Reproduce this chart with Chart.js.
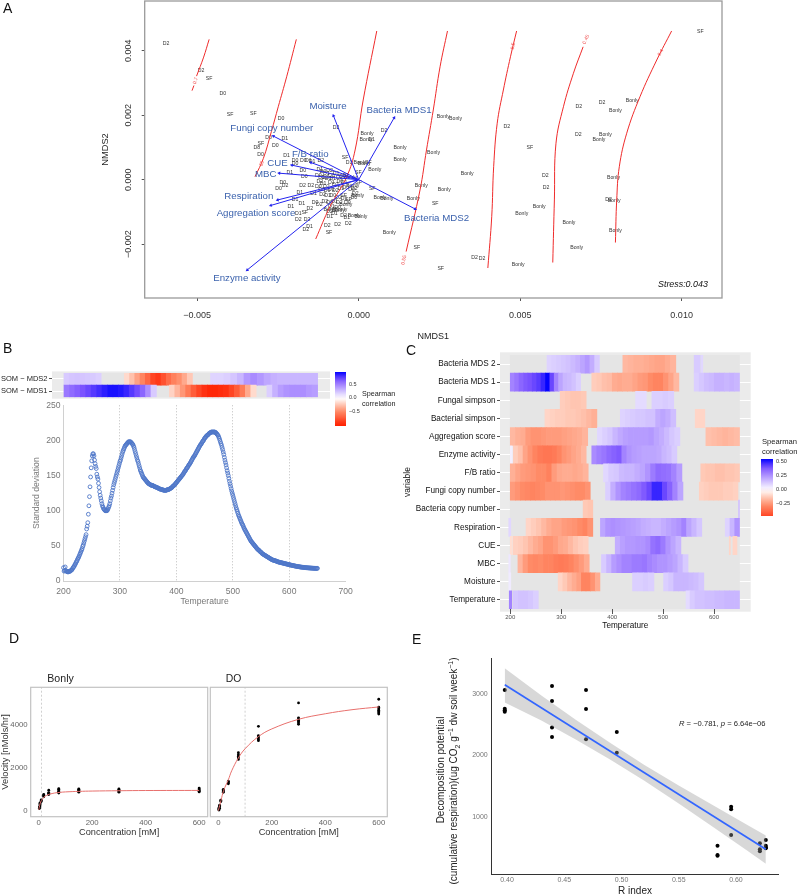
<!DOCTYPE html>
<html>
<head>
<meta charset="utf-8">
<title>Soil figure</title>
<script src="https://cdn.jsdelivr.net/npm/chart.js@4/dist/chart.umd.min.js"></script>
<style>
html, body { margin: 0; padding: 0; background: #fff; }
#page { position: relative; width: 799px; height: 895px; overflow: hidden; font-family: "Liberation Sans", sans-serif; }
#page canvas { position: absolute; }
.note { position: absolute; white-space: nowrap; transform: translateY(-50%); line-height: 1; }
.note sub, .note sup { font-size: 70%; line-height: 0; }
</style>
</head>
<body>
<div id="page"></div>
<script>
// Panel A - NMDS values are in units of 1e-3
const nmdsXTicks = [-5, 0, 5, 10];
const nmdsXLabels = ['\u22120.005', '0.000', '0.005', '0.010'];
const nmdsYTicks = [-2, 0, 2, 4];
const nmdsYLabels = ['\u22120.002', '0.000', '0.002', '0.004'];

const siteNames = ['D2','D2','SF','D0','SF','SF','D0','D1','D0','D0','SF','D8','D0','D1','D0','D0','D1','D0','D1','D2','D1','D0','D0','D0','D2','D0','D2','D2','D1','D1','D1','D1','D2','D1','D2','D2','D1','D2','SF','D2','D2','D2','SF','Bonly','D1','D2','Bonly','Bonly','D1','Bonly','Bonly','Bonly','SF','D2','Bonly','SF','Bonly','Bonly','D2','Bonly','Bonly','D1','D2','Bonly','Bonly','SF','D1','Bonly','Bonly','SF','Bonly','SF',
  'Bonly','Bonly','D2','Bonly','SF','D2','D2','Bonly','Bonly','D2','Bonly','Bonly','Bonly','Bonly','Bonly','D2','D2','Bonly','D2','Bonly','Bonly','SF','Bonly','Bonly','Bonly','Bonly','Bonly','SF','SF','D2','D2','Bonly','SF',
  'D1','D0','D1','D2','D0','D1','D0','D1','D2','D0','D1','D2','D0','D1','Bonly','D2','D1','D0','D2','D1','D2','D0','D1','D0','D0','D1','D2','D1','D0','D1','D2','D1','D0','D2','D1','SF','D2','D0','D1','D2','D0','D2','D0','D1','D0','D2','D1','Bonly','D0','D2','D0','Bonly','SF'];
const siteX = [-5.96,-4.88,-4.63,-4.21,-3.98,-3.26,-2.40,-2.29,-2.79,-2.58,-3.03,-3.15,-3.04,-2.23,-1.97,-1.97,-1.56,-1.71,-1.44,-1.17,-2.13,-1.68,-1.73,-2.35,-2.28,-2.48,-1.74,-1.48,-1.82,-1.97,-2.10,-1.76,-1.51,-1.87,-1.87,-1.60,-1.52,-1.64,-1.67,-0.97,-0.65,-0.32,-0.92,0.95,-0.37,-0.47,-0.14,0.07,-0.89,-0.63,-0.89,-0.40,-0.47,-0.14,-0.03,0.42,0.66,0.87,-0.70,0.26,0.23,0.40,0.79,1.28,1.28,-0.42,-0.30,0.04,0.17,0.30,0.50,-0.01,
  2.62,3.00,4.59,2.32,5.30,6.82,7.54,8.47,7.95,6.80,7.64,7.44,3.36,1.94,2.65,5.78,5.80,7.89,7.74,7.91,1.69,2.37,5.59,5.05,6.51,7.95,6.75,1.80,2.54,3.59,3.82,4.94,10.58,
  -1.20,-1.10,-1.00,-0.90,-0.85,-0.70,-1.25,-1.15,-1.05,-0.95,-0.80,-0.60,-0.50,-0.40,-0.25,-1.20,-1.10,-1.25,-1.00,-0.85,-0.72,-0.58,-0.45,-1.15,-0.98,-0.85,-0.72,-0.55,-0.40,-1.40,-1.12,-0.96,-0.80,-0.62,-0.45,-0.32,-1.05,-0.90,-0.75,-0.60,-0.35,-1.22,-1.35,-0.85,-0.65,-0.90,-0.75,-0.55,-0.22,-0.10,-0.15,-0.18,0.00];
const siteY = [4.22,3.37,3.15,2.68,2.02,2.04,1.90,1.26,1.29,1.07,1.11,1.00,0.79,0.76,0.58,0.51,0.60,0.60,0.57,0.59,0.21,0.11,0.29,-0.09,-0.19,-0.29,-0.17,-0.17,-0.41,-0.63,-0.82,-0.75,-0.90,-1.04,-1.23,-1.25,-1.47,-1.56,-1.01,-1.43,-1.39,-1.36,-1.65,-1.63,-1.19,-1.11,-1.10,-1.14,-1.13,-0.96,-0.94,-0.78,-0.50,-0.27,-0.48,-0.27,-0.57,-0.59,1.63,1.44,1.25,1.25,1.51,1.00,0.61,0.68,0.53,0.52,0.51,0.53,0.30,0.23,
  1.97,1.88,1.66,0.85,1.01,2.27,2.39,2.45,2.13,1.41,1.39,1.25,0.18,-0.17,-0.30,0.14,-0.24,0.06,-0.63,-0.66,-0.60,-0.73,-0.84,-1.04,-1.32,-1.57,-2.11,-2.12,-2.75,-2.41,-2.46,-2.63,4.60,
  0.30,0.25,0.20,0.28,0.12,0.20,0.12,0.05,0.08,0.02,0.02,0.08,0.10,0.14,0.05,-0.05,-0.12,-0.22,-0.22,-0.10,-0.15,-0.05,-0.10,-0.32,-0.35,-0.30,-0.34,-0.28,-0.25,-0.42,-0.45,-0.50,-0.50,-0.55,-0.60,-0.62,-0.68,-0.70,-0.68,-0.72,-0.72,-0.78,-0.72,-0.85,-0.86,-1.00,-1.05,-0.93,-0.30,-0.42,-0.55,-0.18,-0.10];

const arrowNames = ['Moisture','Bacteria MDS1','Fungi copy number','F/B ratio','CUE','MBC','Respiration','Aggregation score','Enzyme activity','Bacteria MDS2'];
const arrowX = [-0.78,1.10,-2.64,-1.48,-2.07,-2.46,-2.51,-2.72,-3.45,1.75];
const arrowY = [1.98,1.92,1.35,0.53,0.45,0.20,-0.63,-0.80,-2.80,-0.91];
const arrowLabelX = [-0.95,1.25,-2.69,-1.50,-2.51,-2.88,-3.40,-3.18,-3.46,2.41];
const arrowLabelY = [2.26,2.16,1.58,0.80,0.52,0.18,-0.53,-1.04,-3.06,-1.20];

const contour70X = [-5.16,-5.10,null,-5.02,-4.80,-4.63];
const contour70Y = [2.76,2.92,null,3.21,3.80,4.35];
const contour65X = [-3.21,-2.95,-2.70,-2.49,-2.23,-1.93];
const contour65Y = [0.09,0.66,1.50,2.26,3.19,4.35];
const contour60X = [-1.33,-0.89,-0.37,-0.11,0.14,0.56];
const contour60Y = [-1.84,-0.84,0.09,0.92,2.47,4.61];
const contour55X = [1.47,1.90,2.10,2.31,2.52,2.75];
const contour55Y = [-2.23,-0.32,0.92,2.16,3.50,4.61];
const contour50X = [4.00,4.12,4.18,4.29,4.48,4.70,4.89];
const contour50Y = [-2.74,-1.15,0.40,1.75,2.78,3.81,4.61];
const contour45X = [6.01,6.06,6.11,6.34,6.65,6.95];
const contour45Y = [-2.57,-0.63,1.13,2.26,3.30,4.12];
const contour40X = [7.95,7.99,8.07,8.30,8.71,9.23,9.69];
const contour40Y = [-1.95,-0.63,0.40,1.44,2.57,3.71,4.61];
const contourLabels = ['0.7','65','0.55','0.5','0.45','0.4'];
const contourLabelX = [-5.05,-3.00,1.40,4.78,7.04,9.35];
const contourLabelY = [3.07,0.50,-2.49,4.14,4.35,3.94];
const contourLabelAngle = [-72,-72,-78,-78,-66,-62];

// Panel B
const stripRows = ['SOM \u2212 MDS2', 'SOM \u2212 MDS1'];
const somMds2Segments = [
  [200, 266, [0.22,0.24,0.25,0.24,0.23,0.22,0.20]],
  [307, 428, [-0.15,-0.25,-0.38,-0.50,-0.65,-0.80,-0.85,-0.75,-0.62,-0.52,-0.45,-0.35,-0.22]],
  [460, 650, [0.18,0.18,0.20,0.24,0.30,0.42,0.47,0.42,0.36,0.32,0.30,0.30,0.30,0.30,0.30,0.30]]
];
const somMds1Segments = [
  [200, 364, [0.55,0.60,0.65,0.70,0.74,0.78,0.82,0.86,0.90,0.90,0.88,0.84,0.78,0.72,0.62,0.45,0.22]],
  [387, 541, [-0.18,-0.30,-0.42,-0.55,-0.70,-0.80,-0.88,-0.92,-0.92,-0.90,-0.88,-0.80,-0.70,-0.55,-0.35,-0.15]],
  [560, 650, [0.20,0.32,0.40,0.44,0.46,0.46,0.46,0.42,0.40]]
];
const sdTickValues = [0, 50, 100, 150, 200, 250];
const tempTickValues = [200, 300, 400, 500, 600, 700];
const sdFirstTemp = 200;
// standard deviation read for every degree from 200 to 650
const sdValues = [19,14,15,20,15,14,13.5,13,13,13,
  13.5,14,14,15,15.5,16,17.5,19,20,21,
  23,24,26,27.5,29,31,32.5,34,36,38,
  40,42,44,46,49,51,54,57,60,63,
  66,74,78,83,95,107,120,134,148,161,
  171,178,181,181,178,172,167,163,160,152,
  148,145,139,133,127,122,118,114,110,107,
  105,103,102,101,100,100,100,100,101,103,
  105,107,110,114,118,121,125,129,133,137,
  140,143,146,149,152,155,158,161,164,167,
  170,172,175,178,181,184,186,188,190,192,
  193,194,195,196,197,198,198,198,198,198,
  197,196,195,194,192,190,187,184,181,178,
  175,172,170,167,164,161,158,156,154,152,
  150,148,147,146,145,144,143,142,141,140,
  139,138.5,138,137.5,137,136.5,136,136,136,135.5,
  135,134.5,134,134,133.5,133,133,132.5,132,131.5,
  131,131,130.5,130.5,130,130,129.5,129.5,129,129,
  129,129,129,129.5,130,130,130,130.5,131,131.5,
  132,132.5,133,134,135,135.5,136,137,138,139,
  140,141,142,143,144,145,146,147,148,149,
  150,151,152,153.5,155,156,157,158.5,160,161,
  162,163.5,165,166,167,168.5,170,171.5,173,174.5,
  176,177,178,179.5,181,182.5,184,185.5,187,188.5,
  190,191.5,193,194,195,196.5,198,199,200,201.5,
  203,204,205,206,207,207.5,208,209,210,210.5,
  211,211.5,212,212,212,212,212,212,212,211.5,
  211,210,209,208,207,205,203,200.5,198,195.5,
  193,190,187,183.5,180,176,172,168.5,165,161,
  157,153.5,150,146,142,138.5,135,131.5,128,125,
  122,119,116,113,110,107,104,101.5,99,96.5,
  94,92,90,88,86,84,82,80.5,79,77,
  75,73.5,72,70.5,69,67.5,66,64.5,63,61.5,
  60,58.5,57,56,55,54,53,52,51,50,
  49,48,47,46,45,44.5,44,43,42,41.5,
  41,40,39,38.5,38,37.5,37,36.5,36,35.5,
  35,34.5,34,33.5,33,32.5,32,31.5,31,30.5,
  30,29.8,29.6,29.4,29,28.8,28.6,28.2,28,27.6,
  27.2,27,26.8,26.6,26.4,26.2,26,25.8,25.6,25.4,
  25.2,25,24.8,24.6,24.4,24.2,24,23.8,23.6,23.4,
  23.2,23,22.8,22.6,22.4,22.2,22,21.9,21.7,21.5,
  21.4,21.2,21,20.9,20.7,20.6,20.4,20.3,20.2,20,
  19.9,19.8,19.7,19.6,19.5,19.4,19.3,19.2,19.1,19,
  18.9,18.8,18.8,18.7,18.6,18.6,18.5,18.5,18.4,18.4,
  18.3,18.3,18.2,18.2,18.1,18.1,18,18,18,18,18];

// Panel C - each row holds [from, to, values] runs over the temperature axis
const variableNames = ['Bacteria MDS 2','Bacteria MDS 1','Fungal simpson','Bacterial simpson','Aggregation score','Enzyme activity','F/B ratio','Fungi copy number','Bacteria copy number','Respiration','CUE','MBC','Moisture','Temperature'];
const bacteriaMds2Row = [[272,375,[0.11,0.12,0.13,0.14,0.15,0.17,0.19,0.22,0.25,0.20,0.13]],[421,525,[-0.17,-0.18,-0.19,-0.19,-0.20,-0.21,-0.22,-0.22,-0.20,-0.18]],[561,573,[0.13]],[575,578,[0.10]]];
const bacteriaMds1Row = [[200,338,[0.30,0.33,0.37,0.40,0.42,0.44,0.46,0.50,0.56,0.44,0.30,0.22,0.18,0.17,0.15,0.12]],[360,531,[-0.12,-0.13,-0.15,-0.16,-0.20,-0.21,-0.20,-0.20,-0.22,-0.24,-0.25,-0.28,-0.30,-0.30,-0.26,-0.22,-0.17]],[561,650,[0.12,0.14,0.16,0.17,0.19,0.19,0.18,0.19,0.18]]];
const fungalSimpsonRow = [[298,349,[-0.12,-0.13,-0.14,-0.14,-0.13]],[446,467,[0.09,0.09]],[478,521,[0.12,0.12,0.13,0.12]]];
const bacterialSimpsonRow = [[268,370,[-0.10,-0.11,-0.12,-0.12,-0.13,-0.13,-0.14,-0.15,-0.17,-0.19]],[416,525,[0.11,0.12,0.13,0.14,0.14,0.15,0.15,0.20,0.22,0.20,0.16]],[563,582,[-0.10,-0.10]]];
const aggregationRow = [[200,352,[-0.17,-0.19,-0.20,-0.24,-0.26,-0.26,-0.25,-0.24,-0.24,-0.24,-0.23,-0.22,-0.21,-0.20,-0.18]],[371,533,[0.10,0.12,0.14,0.18,0.21,0.23,0.24,0.24,0.24,0.24,0.25,0.22,0.20,0.17,0.14,0.12]],[584,650,[-0.15,-0.16,-0.17,-0.18,-0.17,-0.16]]];
const enzymeRow = [[200,204,[0.04]],[206,349,[-0.12,-0.15,-0.22,-0.26,-0.30,-0.33,-0.34,-0.34,-0.33,-0.30,-0.26,-0.24,-0.22,-0.20,-0.17]],[360,527,[0.28,0.31,0.33,0.36,0.38,0.40,0.30,0.26,0.24,0.23,0.22,0.22,0.22,0.21,0.18,0.16,0.13]]];
const fbRatioRow = [[200,353,[-0.19,-0.22,-0.24,-0.25,-0.26,-0.28,-0.28,-0.31,-0.24,-0.21,-0.20,-0.20,-0.21,-0.20,-0.18]],[383,537,[0.10,0.13,0.14,0.17,0.18,0.18,0.20,0.22,0.26,0.32,0.36,0.35,0.34,0.30,0.24]],[574,650,[-0.13,-0.14,-0.14,-0.15,-0.15,-0.14,-0.14,-0.13]]];
const fungiCopyRow = [[200,357,[-0.24,-0.26,-0.28,-0.29,-0.30,-0.29,-0.28,-0.26,-0.26,-0.26,-0.25,-0.26,-0.27,-0.28,-0.28,-0.26]],[387,539,[0.12,0.20,0.26,0.30,0.32,0.34,0.36,0.40,0.44,0.50,0.50,0.44,0.38,0.30,0.22]],[571,647,[-0.11,-0.12,-0.13,-0.13,-0.13,-0.12,-0.12,-0.11]]];
const bacteriaCopyRow = [[343,362,[-0.13,-0.14]],[648,650,[0.15]]];
const respirationRow = [[197,201,[0.10]],[231,362,[-0.10,-0.12,-0.14,-0.17,-0.20,-0.22,-0.22,-0.24,-0.25,-0.26,-0.28,-0.30,-0.26]],[377,576,[0.22,0.26,0.27,0.26,0.25,0.24,0.23,0.22,0.20,0.19,0.18,0.18,0.20,0.22,0.24,0.26,0.30,0.22,0.18,0.14]],[622,650,[0.11,0.18,0.26]]];
const cueRow = [[200,204,[-0.08]],[206,353,[-0.11,-0.12,-0.14,-0.17,-0.20,-0.22,-0.26,-0.26,-0.24,-0.21,-0.20,-0.17,-0.14,-0.12,-0.11]],[406,535,[0.20,0.23,0.25,0.25,0.26,0.26,0.28,0.34,0.36,0.32,0.26,0.22,0.18]],[630,632,[-0.10]],[637,645,[-0.10]]];
const mbcRow = [[197,200,[0.06]],[215,355,[-0.18,-0.24,-0.28,-0.29,-0.28,-0.30,-0.30,-0.32,-0.33,-0.32,-0.30,-0.27,-0.24,-0.20]],[379,549,[0.13,0.18,0.24,0.27,0.30,0.30,0.32,0.32,0.33,0.30,0.28,0.26,0.26,0.24,0.22,0.18,0.13]]];
const moistureRow = [[197,201,[0.05]],[294,376,[-0.10,-0.13,-0.17,-0.20,-0.23,-0.30,-0.30,-0.26,-0.20]],[440,482,[0.12,0.12,0.13,0.12]],[501,580,[0.12,0.14,0.18,0.18,0.18,0.17,0.16,0.14]]];
const temperatureRow = [[198,203,[0.30]],[206,255,[0.14,0.15,0.15,0.14,0.12]],[545,553,[0.09]],[553,650,[0.13,0.15,0.15,0.16,0.16,0.17,0.17,0.18,0.18,0.18]]];
const heatTickValues = [200, 300, 400, 500, 600];

// Panel D
const concTicks = [0, 200, 400, 600];
const velocityTicks = [0, 2000, 4000];
const bonlyConc = [2.3,2.3,2.3,4.7,4.7,4.7,4.7,9.4,9.4,9.4,18.75,18.75,18.75,18.75,37.5,37.5,37.5,37.5,37.5,75,75,75,75,75,75,150,150,150,150,150,150,300,300,300,300,300,300,600,600,600,600,600,600];
const bonlyVelocity = [100,130,170,220,280,320,360,430,480,510,650,690,720,760,760,790,820,850,960,830,870,900,940,1000,1030,870,900,930,960,1000,1020,870,900,930,960,990,1020,880,910,940,970,1020,1060];
const bonlyFitConc = [0,2,5,10,20,30,40,60,80,100,150,200,300,400,600];
const bonlyFitVelocity = [40,160,320,480,640,720,770,830,860,880,905,920,935,945,950];
const bonlyKm = 10;
const doConc = [2.3,2.3,2.3,2.3,4.7,4.7,4.7,9.4,9.4,9.4,18.75,18.75,18.75,18.75,37.5,37.5,37.5,37.5,75,75,75,75,75,150,150,150,150,150,150,300,300,300,300,300,300,300,600,600,600,600,600,600,600];
const doVelocity = [30,60,100,130,120,200,260,430,480,500,860,900,950,1000,1260,1300,1340,1380,2400,2480,2550,2620,2720,3280,3340,3400,3460,3520,3950,4050,4120,4180,4240,4300,4350,5050,4530,4590,4650,4710,4770,4850,5220];
const doFitConc = [0,10,20,37.5,50,75,100,150,200,300,400,500,600];
const doFitVelocity = [0,480,950,1450,1870,2470,2900,3470,3830,4280,4540,4730,4860];
const doKm = 100;

// Panel E
const rIndexTicks = [0.40, 0.45, 0.50, 0.55, 0.60];
const rIndexLabels = ['0.40', '0.45', '0.50', '0.55', '0.60'];
const decompTicks = [1000, 2000, 3000];
const rIndex = [0.398,0.398,0.398,0.398,0.4393,0.4393,0.4393,0.4393,0.469,0.469,0.469,0.4959,0.4959,0.5839,0.5839,0.5839,0.5958,0.5958,0.5958,0.6209,0.6209,0.6209,0.6261,0.6261,0.6261,0.6261];
const decomposition = [3065,2760,2735,2710,3130,2886,2453,2300,3065,2756,2263,2382,2046,533,382,370,1168,1125,707,572,474,441,626,533,506,490];
const fitRIndex = [0.398,0.6261];
const fitDecomp = [3150,474];
const ribbonRIndex = [0.398,0.43,0.46,0.49,0.52,0.55,0.58,0.61,0.6261];
const ribbonUpper = [3420,2975,2580,2205,1845,1510,1190,870,700];
const ribbonLower = [2860,2570,2260,1935,1590,1220,836,450,240];

Chart.defaults.font.family = '"Liberation Sans", sans-serif';
Chart.defaults.animation = false;
Chart.defaults.responsive = false;
Chart.defaults.plugins.legend.display = false;
Chart.defaults.plugins.tooltip.enabled = false;

const page = document.getElementById('page');

function addCanvas(x, y, w, h) {
    const canvas = document.createElement('canvas');
    canvas.width = w;
    canvas.height = h;
    canvas.style.left = x + 'px';
    canvas.style.top = y + 'px';
    page.appendChild(canvas);
    return canvas.getContext('2d');
}

function note(html, x, y, size, color, extra) {
    const div = document.createElement('div');
    div.className = 'note';
    div.innerHTML = html;
    div.style.left = x + 'px';
    div.style.top = y + 'px';
    div.style.fontSize = size + 'px';
    div.style.color = color || '#222';
    if (extra) Object.assign(div.style, extra);
    page.appendChild(div);
}

const xy = (xs, ys) => xs.map((x, i) => ({ x: x, y: ys[i] }));

// plot area is forced so panels line up with the reference
const layoutBox = (top, right) => ({ autoPadding: false, padding: { top: top, right: right, left: 0, bottom: 0 } });
const clearPadding = scale => { scale.paddingTop = scale.paddingBottom = scale.paddingLeft = scale.paddingRight = 0; };
const fixWidth = w => scale => { scale.width = w; clearPadding(scale); };
const fixHeight = h => scale => { scale.height = h; clearPadding(scale); };
const setTicks = vals => scale => { scale.ticks = vals.map(v => ({ value: v })); };

// white -> lavender -> blue and white -> salmon -> red, read from the legends
const blueStops = [[255,255,255],[213,198,255],[169,138,255],[120,80,255],[0,0,255]];
const redStops = [[255,255,255],[255,196,176],[255,138,102],[255,90,56],[255,32,0]];
function ramp(t) {
    const stops = t >= 0 ? blueStops : redStops;
    const p = Math.min(Math.abs(t), 1) * 4;
    const i = Math.min(Math.floor(p), 3);
    const f = p - i;
    const c = stops[i].map((a, k) => Math.round(a + (stops[i + 1][k] - a) * f));
    return `rgb(${c[0]},${c[1]},${c[2]})`;
}

function heatCells(rowName, segments) {
    const cells = [];
    segments.forEach(([from, to, vals]) => {
        const w = (to - from) / vals.length;
        vals.forEach((v, i) => cells.push({ y: rowName, x: [from + i * w, from + (i + 1) * w], v: v }));
    });
    return cells;
}

function heatDatasets(rows, segmentsList, limit, from, to) {
    const cells = rows.flatMap((name, i) => heatCells(name, segmentsList[i]));
    return [
        { data: cells, order: 1, grouped: false, barPercentage: 1, categoryPercentage: 1, backgroundColor: ctx => ctx.raw ? ramp(ctx.raw.v / limit) : '#fff' },
        { data: rows.map(name => ({ y: name, x: [from, to] })), order: 2, grouped: false, barPercentage: 1, categoryPercentage: 1, backgroundColor: '#e5e5e5' }
    ];
}

const panelBackground = (extendY) => ({
    id: 'panelBackground',
    beforeDraw(chart) {
        const a = chart.chartArea;
        chart.ctx.fillStyle = '#ebebeb';
        chart.ctx.fillRect(a.left, a.top - extendY, a.width, a.height + 2 * extendY);
    }
});

const plotFrame = (color, width) => ({
    id: 'plotFrame',
    afterDraw(chart) {
        const a = chart.chartArea;
        chart.ctx.strokeStyle = color;
        chart.ctx.lineWidth = width;
        chart.ctx.strokeRect(a.left, a.top, a.width, a.height);
    }
});

function colorBar(x, y, w, h, topValue, bottomValue, limit) {
    const stops = [];
    for (let i = 0; i <= 12; i++) {
        const v = topValue + (bottomValue - topValue) * i / 12;
        stops.push(ramp(v / limit) + ' ' + (i / 12 * 100) + '%');
    }
    const bar = document.createElement('div');
    bar.style.cssText = `position:absolute;left:${x}px;top:${y}px;width:${w}px;height:${h}px;background:linear-gradient(to bottom,${stops.join(',')})`;
    page.appendChild(bar);
}

/* ---------- Panel A ---------- */
const sitePlugin = {
    id: 'sitePlugin',
    beforeDatasetsDraw(chart) {
        const { ctx, scales } = chart;
        ctx.save();
        ctx.font = '5.2px "Liberation Sans"';
        ctx.fillStyle = '#333';
        ctx.textAlign = 'center';
        ctx.textBaseline = 'middle';
        siteNames.forEach((name, i) => {
            ctx.fillText(name, scales.x.getPixelForValue(siteX[i]), scales.y.getPixelForValue(siteY[i]));
        });
        ctx.restore();
    },
    afterDatasetsDraw(chart) {
        const { ctx, scales } = chart;
        ctx.save();
        ctx.textAlign = 'center';
        ctx.textBaseline = 'middle';
        ctx.font = '9.7px "Liberation Sans"';
        ctx.fillStyle = '#3b62ad';
        arrowNames.forEach((name, i) => {
            ctx.fillText(name, scales.x.getPixelForValue(arrowLabelX[i]), scales.y.getPixelForValue(arrowLabelY[i]));
        });
        ctx.font = '5px "Liberation Sans"';
        ctx.fillStyle = '#f05050';
        contourLabels.forEach((label, i) => {
            ctx.save();
            ctx.translate(scales.x.getPixelForValue(contourLabelX[i]), scales.y.getPixelForValue(contourLabelY[i]));
            ctx.rotate(contourLabelAngle[i] * Math.PI / 180);
            ctx.fillText(label, 0, 0);
            ctx.restore();
        });
        ctx.restore();
    }
};

const contourSet = (xs, ys) => ({ data: xy(xs, ys), borderColor: '#ef2b2b', borderWidth: 1, pointRadius: 0, tension: 0.4, order: 2 });
const arrowSets = arrowNames.map((name, i) => ({
    label: name,
    data: [{ x: 0, y: 0 }, { x: arrowX[i], y: arrowY[i] }],
    borderColor: '#2323ee',
    borderWidth: 1,
    pointRadius: [0, 2],
    pointStyle: 'triangle',
    pointRotation: [0, Math.atan2(arrowX[i], arrowY[i]) * 180 / Math.PI],
    pointBackgroundColor: '#2323ee',
    pointBorderWidth: 0,
    order: 1
}));

new Chart(addCanvas(0, 0, 799, 345), {
    type: 'line',
    data: { datasets: [
        contourSet(contour70X, contour70Y), contourSet(contour65X, contour65Y), contourSet(contour60X, contour60Y),
        contourSet(contour55X, contour55Y), contourSet(contour50X, contour50Y), contourSet(contour45X, contour45Y),
        contourSet(contour40X, contour40Y)
    ].concat(arrowSets) },
    options: {
        layout: layoutBox(1, 77),
        scales: {
            x: {
                type: 'linear', min: -6.625, max: 11.25,
                afterFit: fixHeight(47), afterBuildTicks: setTicks(nmdsXTicks),
                grid: { drawOnChartArea: false, tickColor: '#555', tickLength: 3 },
                border: { display: false },
                ticks: { autoSkip: false, maxRotation: 0, padding: 9, color: '#333', font: { size: 9 }, callback: (v, i) => nmdsXLabels[i] },
                title: { display: true, text: 'NMDS1', color: '#222', font: { size: 9 }, padding: { top: 0, bottom: 3 } }
            },
            y: {
                type: 'linear', min: -3.67, max: 5.54,
                afterFit: fixWidth(144.7), afterBuildTicks: setTicks(nmdsYTicks),
                grid: { drawOnChartArea: false, tickColor: '#555', tickLength: 3 },
                border: { display: false },
                ticks: { autoSkip: false, minRotation: 90, maxRotation: 90, crossAlign: 'center', padding: -0.8, color: '#333', font: { size: 9 }, callback: (v, i) => nmdsYLabels[i] },
                title: { display: true, text: 'NMDS2', color: '#222', font: { size: 9.3 }, padding: { top: 100, bottom: 0 } }
            }
        }
    },
    plugins: [sitePlugin, plotFrame('#9a9a9a', 1.3)]
});
note('<i>Stress:0.043</i>', 658, 284, 8.9, '#111');

/* ---------- Panel B ---------- */
new Chart(addCanvas(0, 360, 360, 45), {
    type: 'bar',
    data: { labels: stripRows, datasets: heatDatasets(stripRows, [somMds2Segments, somMds1Segments], 0.95, 200, 650) },
    options: {
        indexAxis: 'y',
        layout: layoutBox(12.9, 30),
        scales: {
            x: {
                type: 'linear', min: 178.7, max: 672,
                afterFit: fixHeight(7.8), afterBuildTicks: setTicks([]),
                grid: { display: false }, border: { display: false }, ticks: { display: false }
            },
            y: {
                type: 'category',
                afterFit: fixWidth(52),
                grid: { color: '#fff', offset: false, tickColor: '#555', tickLength: 3 },
                border: { display: false },
                ticks: { color: '#222', padding: 1.5, font: { size: 7.5 } }
            }
        }
    },
    plugins: [panelBackground(1.5)]
});

new Chart(addCanvas(0, 400, 360, 215), {
    type: 'line',
    data: { datasets: [{
        data: sdValues.map((v, i) => ({ x: sdFirstTemp + i, y: v })), showLine: false, clip: false,
        pointRadius: 1.9, pointBorderWidth: 0.9, pointBorderColor: '#4f77c8', pointBackgroundColor: 'rgba(0,0,0,0)'
    }] },
    options: {
        layout: layoutBox(5.3, 14.3),
        scales: {
            x: {
                type: 'linear', min: 200, max: 700,
                afterFit: fixHeight(34), afterBuildTicks: setTicks(tempTickValues),
                grid: { drawTicks: false, color: ctx => (ctx.tick && ctx.tick.value >= 300 && ctx.tick.value <= 600) ? '#bdbdbd' : 'rgba(0,0,0,0)' },
                border: { color: '#d0d0d0', dash: [1, 2] },
                ticks: { autoSkip: false, maxRotation: 0, padding: 5, color: '#777', font: { size: 8.6 } },
                title: { display: true, text: 'Temperature', color: '#777', font: { size: 8.6 }, padding: { top: 0, bottom: 8 } }
            },
            y: {
                type: 'linear', min: 0, max: 250,
                afterFit: fixWidth(63.5), afterBuildTicks: setTicks(sdTickValues),
                grid: { display: false, drawTicks: false },
                border: { color: '#d0d0d0' },
                ticks: { padding: 3, color: '#777', font: { size: 8.6 } },
                title: { display: true, text: 'Standard deviation', color: '#777', font: { size: 8.6 }, padding: { top: 31, bottom: 0 } }
            }
        }
    }
});

colorBar(335, 372, 10.7, 53.7, 0.96, -1.0, 0.95);
note('0.5', 349, 384.7, 5.5, '#333');
note('0.0', 349, 398, 5.5, '#333');
note('\u22120.5', 349, 412.3, 5.5, '#333');
note('Spearman', 362, 394, 7.2, '#222');
note('correlation', 362, 403.5, 7.2, '#222');

/* ---------- Panel C ---------- */
new Chart(addCanvas(400, 330, 399, 310), {
    type: 'bar',
    data: {
        labels: variableNames,
        datasets: heatDatasets(variableNames, [bacteriaMds2Row, bacteriaMds1Row, fungalSimpsonRow, bacterialSimpsonRow, aggregationRow, enzymeRow, fbRatioRow, fungiCopyRow, bacteriaCopyRow, respirationRow, cueRow, mbcRow, moistureRow, temperatureRow], 0.565, 200, 650)
    },
    options: {
        indexAxis: 'y',
        layout: layoutBox(25, 48.3),
        scales: {
            x: {
                type: 'linear', min: 179.8, max: 672,
                afterFit: fixHeight(31), afterBuildTicks: setTicks(heatTickValues),
                grid: { color: '#fff', tickColor: '#555', tickLength: 5 },
                border: { display: false },
                ticks: { autoSkip: false, maxRotation: 0, padding: 0, color: '#555', font: { size: 6 } },
                title: { display: true, text: 'Temperature', color: '#111', font: { size: 8.2 }, padding: { top: 0, bottom: 9 } }
            },
            y: {
                type: 'category',
                afterFit: fixWidth(100),
                grid: { color: '#fff', offset: false, tickColor: '#555', tickLength: 3 },
                border: { display: false },
                ticks: { autoSkip: false, padding: 1.5, color: '#111', font: { size: 8.2 } },
                title: { display: true, text: 'variable', color: '#111', font: { size: 8.5 }, padding: { top: 3, bottom: 0 } }
            }
        }
    },
    plugins: [panelBackground(2.7)]
});

colorBar(761, 459, 11.7, 57, 0.565, -0.475, 0.565);
note('0.50', 776, 462.3, 5.6, '#333');
note('0.25', 776, 476.3, 5.6, '#333');
note('0.00', 776, 490, 5.6, '#333');
note('\u22120.25', 776, 503.7, 5.6, '#333');
note('Spearman', 762, 441.7, 7.6, '#222');
note('correlation', 762, 451.7, 7.6, '#222');

/* ---------- Panel D ---------- */
function kineticsChart(left, canvasW, conc, velocity, fitConc, fitVelocity, km, plotLeft, showY) {
    new Chart(addCanvas(left, 660, canvasW, 185), {
        type: 'line',
        data: { datasets: [
            { data: xy(fitConc, fitVelocity), borderColor: '#e8706d', borderWidth: 1, pointRadius: 0, tension: 0.4, order: 1 },
            { data: xy(conc, velocity), showLine: false, pointRadius: 1.4, pointBorderWidth: 0, pointBackgroundColor: '#000', order: 2 },
            { data: xy([km, km], [-281, 5780]), borderColor: '#c4c4c4', borderWidth: 0.8, borderDash: [2, 2], pointRadius: 0, order: 3 }
        ] },
        options: {
            layout: layoutBox(27.3, canvasW - plotLeft - 177),
            scales: {
                x: {
                    type: 'linear', min: -30, max: 632,
                    afterFit: fixHeight(28.3), afterBuildTicks: setTicks(concTicks),
                    grid: { display: false, tickColor: '#777', tickLength: 1.5 },
                    border: { display: false },
                    ticks: { autoSkip: false, maxRotation: 0, padding: 0, color: '#666', font: { size: 7.8 } },
                    title: { display: true, text: 'Concentration [mM]', color: '#333', font: { size: 9.2 }, padding: { top: 0, bottom: 7.5 } }
                },
                y: {
                    type: 'linear', min: -281, max: 5780,
                    afterFit: fixWidth(plotLeft), afterBuildTicks: setTicks(velocityTicks),
                    grid: { display: false, drawTicks: showY, tickColor: '#777', tickLength: 2 },
                    border: { display: false },
                    ticks: { display: showY, padding: 1, color: '#666', font: { size: 7.8 }, callback: v => String(v) },
                    title: { display: showY, text: 'Velocity [nMols/hr]', color: '#333', font: { size: 9.3 }, padding: { top: 0, bottom: 0 } }
                }
            }
        },
        plugins: [plotFrame('#c2c2c2', 1.2)]
    });
}
kineticsChart(0, 209, bonlyConc, bonlyVelocity, bonlyFitConc, bonlyFitVelocity, bonlyKm, 30.7, true);
kineticsChart(209, 186, doConc, doVelocity, doFitConc, doFitVelocity, doKm, 1.3, false);
note('Bonly', 47.3, 677.7, 10.6, '#222');
note('DO', 225.7, 679.3, 10.4, '#222');

/* ---------- Panel E ---------- */
new Chart(addCanvas(400, 640, 399, 257), {
    type: 'line',
    data: { datasets: [
        { data: xy(fitRIndex, fitDecomp), borderColor: '#3366ff', borderWidth: 1.7, pointRadius: 0, order: 1 },
        { data: xy(ribbonRIndex, ribbonUpper), borderWidth: 0, pointRadius: 0, fill: '+1', backgroundColor: 'rgba(153,153,153,0.38)', order: 2 },
        { data: xy(ribbonRIndex, ribbonLower), borderWidth: 0, pointRadius: 0, order: 2 },
        { data: xy(rIndex, decomposition), showLine: false, pointRadius: 2, pointBorderWidth: 0, pointBackgroundColor: '#000', order: 3 }
    ] },
    options: {
        layout: layoutBox(18, 20.7),
        scales: {
            x: {
                type: 'linear', min: 0.3866, max: 0.637,
                afterFit: fixHeight(22.7), afterBuildTicks: setTicks(rIndexTicks),
                grid: { display: false, tickColor: '#555', tickLength: 2 },
                border: { color: '#333', width: 1 },
                ticks: { autoSkip: false, maxRotation: 0, padding: 0, color: '#777', font: { size: 7 }, callback: (v, i) => rIndexLabels[i] },
                title: { display: true, text: 'R index', color: '#222', font: { size: 10 }, padding: { top: 0, bottom: 0 } }
            },
            y: {
                type: 'linear', min: 68, max: 3585,
                afterFit: fixWidth(91.7), afterBuildTicks: setTicks(decompTicks),
                grid: { display: false, tickColor: '#555', tickLength: 2 },
                border: { color: '#333', width: 1 },
                ticks: { padding: 2, color: '#777', font: { size: 7 }, callback: v => String(v) }
            }
        }
    }
});
note('<i>R</i> = \u22120.781, <i>p</i> = 6.64e\u221206', 679, 724, 7.6, '#222');
const rotated = { transform: 'translate(-50%,-50%) rotate(-90deg)' };
note('Decomposition potential', 441, 770, 10, '#222', rotated);
note('(cumulative respiration)(ug CO<sub>2</sub> g<sup>\u22121</sup> dw soil week<sup>\u22121</sup>)', 454, 771, 10, '#222', rotated);

/* ---------- Panel letters ---------- */
note('A', 3, 8, 14, '#111');
note('B', 3, 348, 14, '#111');
note('C', 406, 349.5, 14, '#111');
note('D', 9, 638, 14, '#111');
note('E', 412, 639, 14, '#111');
</script>
</body>
</html>
